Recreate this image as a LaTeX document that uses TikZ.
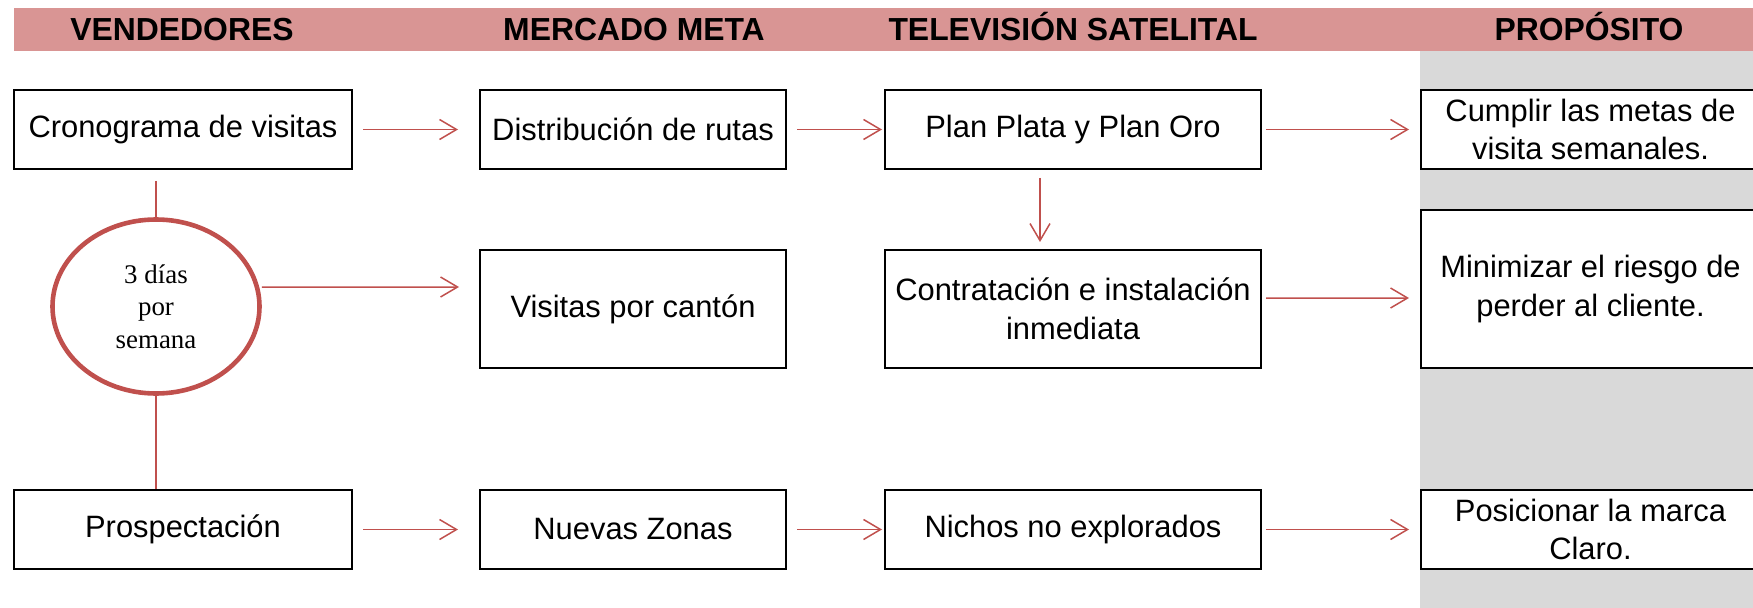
\documentclass[tikz,border=0pt]{standalone}
\usepackage{fontspec}
\setmainfont{Liberation Sans}
\newfontfamily\serifa{Liberation Serif}
\usetikzlibrary{shapes.geometric,arrows.meta}
\definecolor{rojoclaro}{HTML}{D99594}
\definecolor{rojo}{HTML}{C0504D}
\definecolor{grisclaro}{HTML}{D9D9D9}

\begin{document}
\begin{tikzpicture}[x=1bp, y=-1bp,
    caja/.style={draw, line width=2bp, fill=white, align=center, inner sep=0pt,
        font=\fontsize{31}{39}\selectfont},
    titulo/.style={anchor=base, font=\fontsize{32}{38}\selectfont\bfseries},
    flecha/.style={draw=rojo, line width=1.5bp, -{Straight Barb[length=17bp,width=20bp]}},
    enlace/.style={draw=rojo, line width=1.5bp}]

        % Page frame, header band and grey column
        \clip (0,0) rectangle (1753,608);
        \fill[grisclaro] (1420,48) rectangle (1753,608);
        \fill[rojoclaro] (14,8) rectangle (1753,51);

        % Column titles
        \node[titulo] (tvend) at (182,41) {VENDEDORES};
        \node[titulo] (tmerc) at (634,41) {MERCADO META};
        \node[titulo] (ttele) at (1073,41) {TELEVISIÓN SATELITAL};
        \node[titulo] (tprop) at (1589,41) {PROPÓSITO};

        % First row
        \node[caja, minimum width=338bp, minimum height=79bp] (crono) at (183,129.5) {Cronograma de visitas};
        \node[caja, minimum width=306bp, minimum height=79bp] (rutas) at (633,129.5) {Distribución de rutas};
        \node[caja, minimum width=376bp, minimum height=79bp] (plata) at (1073,129.5) {Plan Plata y Plan Oro};
        \node[caja, minimum width=339bp, minimum height=79bp] (cumplir) at (1590.5,129.5) {Cumplir las metas de\\visita semanales.};

        % Second row
        \node[ellipse, draw=rojo, line width=4.6bp, minimum width=207bp, minimum height=174bp, inner sep=0pt,
            align=center, font=\serifa\fontsize{27}{32.5}\selectfont] (dias) at (156,306.5) {3 días\\por\\semana};
        \node[caja, minimum width=306bp, minimum height=118bp] (visitas) at (633,309) {Visitas por cantón};
        \node[caja, minimum width=376bp, minimum height=118bp] (contra) at (1073,309) {Contratación e instalación\\inmediata};
        \node[caja, minimum width=339bp, minimum height=158bp] (minim) at (1590.5,289) {Minimizar el riesgo de\\perder al cliente.};

        % Third row
        \node[caja, minimum width=338bp, minimum height=79bp] (prosp) at (183,529.5) {Prospectación};
        \node[caja, minimum width=306bp, minimum height=79bp] (zonas) at (633,529.5) {Nuevas Zonas};
        \node[caja, minimum width=376bp, minimum height=79bp] (nichos) at (1073,529.5) {Nichos no explorados};
        \node[caja, minimum width=339bp, minimum height=79bp] (posic) at (1590.5,529.5) {Posicionar la marca\\Claro.};

        % Horizontal arrows between the boxes of rows one and three
        \foreach \a/\b/\sa/\sb in {crono/rutas/10/21, rutas/plata/10/2, plata/cumplir/4/11,
                                   prosp/zonas/10/21, zonas/nichos/10/2, nichos/posic/4/11} {
            \draw[flecha, shorten <=\sa bp, shorten >=\sb bp] (\a) -- (\b);
        }

        % Arrows of the second row
        \draw[flecha, shorten >=20bp] ([yshift=19.5bp]dias.east) -- ([yshift=22bp]visitas.west);
        \draw[flecha, shorten <=4bp, shorten >=11bp] ([yshift=11bp]contra.east) -- ([yshift=-9bp]minim.west);
        \draw[flecha, shorten <=8bp, shorten >=7bp] ([xshift=-33bp]plata.south) -- ([xshift=-33bp]contra.north);

        % Lines through the ellipse
        \coordinate (corte) at (156,181);
        \draw[enlace] (corte) -- (dias.north);
        \draw[enlace] (dias.south) -- (dias.south |- prosp.north);

\end{tikzpicture}
\end{document}
